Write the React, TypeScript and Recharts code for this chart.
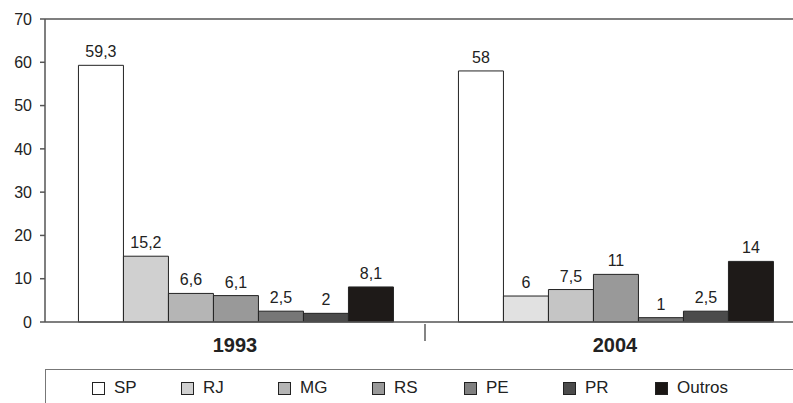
import React from "react";
import { BarChart, Bar, XAxis, YAxis, Cell, LabelList, ReferenceLine } from "recharts";

const years = ["1993", "2004"];
const states = ["SP", "RJ", "MG", "RS", "PE", "PR", "Outros"];
const values1993 = [59.3, 15.2, 6.6, 6.1, 2.5, 2, 8.1];
const values2004 = [58, 6, 7.5, 11, 1, 2.5, 14];
const yTicks = [0, 10, 20, 30, 40, 50, 60, 70];

// fills as they appear in each group (the scan shades the 2004 bars a bit differently)
const fills1993 = ["#ffffff", "#d0d0d0", "#b5b5b5", "#999999", "#777777", "#4b4b4b", "#1e1a18"];
const fills2004 = ["#ffffff", "#e1e1e1", "#c5c5c5", "#999999", "#777777", "#4b4b4b", "#1e1a18"];
const legendFills = ["#ffffff", "#d0d0d0", "#b5b5b5", "#999999", "#808080", "#4b4b4b", "#1a1614"];
// left edge of each legend swatch, relative to the legend box
const legendLeft = [46, 135, 232, 326, 418, 517, 609];

const FONT = "Arial, 'Liberation Sans', Helvetica, sans-serif";

const data = years.map((year, i) => {
    const row: { [key: string]: string | number } = { year };
    states.forEach((s, j) => {
        row[s] = i === 0 ? values1993[j] : values2004[j];
    });
    return row;
});

const CHART_W = 810;
const PLOT_LEFT = 45;
const PLOT_RIGHT = 805;

function YearTick(props: any) {
    const { x, y, payload, index } = props;
    const half = (PLOT_RIGHT - PLOT_LEFT) / years.length / 2;
    return (
        <g>
            <text
                x={x}
                y={y + 22}
                textAnchor="middle"
                fontFamily={FONT}
                fontSize={20}
                fontWeight="bold"
                fill="#222"
            >
                {payload.value}
            </text>
            {index < years.length - 1 && (
                <line x1={x + half} x2={x + half} y1={y - 6} y2={y + 11} stroke="#333" strokeWidth={1.2} />
            )}
        </g>
    );
}

export default function App() {
    return (
        <div style={{ position: "absolute", left: 0, top: 0, width: 793, height: 403, overflow: "hidden", background: "#fff" }}>
            <BarChart
                width={CHART_W}
                height={403}
                data={data}
                margin={{ top: 19, right: CHART_W - PLOT_RIGHT, bottom: 41, left: 5 }}
                barCategoryGap="8.8%"
                barGap={0}
            >
                <YAxis
                    domain={[0, 70]}
                    ticks={yTicks}
                    width={40}
                    tickSize={5}
                    tickMargin={8}
                    axisLine={{ stroke: "#555", strokeWidth: 1.5 }}
                    tickLine={{ stroke: "#555", strokeWidth: 1.5 }}
                    tick={{ fontFamily: FONT, fontSize: 16, fill: "#222" }}
                />
                <XAxis
                    dataKey="year"
                    height={40}
                    tickLine={false}
                    axisLine={{ stroke: "#555", strokeWidth: 1.5 }}
                    tick={<YearTick />}
                    interval={0}
                />
                <ReferenceLine y={70} stroke="#555" strokeWidth={1.5} />
                {states.map((s, j) => (
                    <Bar key={s} dataKey={s} stroke="#222" strokeWidth={1} isAnimationActive={false}>
                        {data.map((_, i) => (
                            <Cell key={`c-${i}`} fill={i === 0 ? fills1993[j] : fills2004[j]} />
                        ))}
                        <LabelList
                            dataKey={s}
                            position="top"
                            offset={8}
                            formatter={(v: any) => String(v).replace(".", ",")}
                            style={{ fontFamily: FONT, fontSize: 16, fill: "#222" }}
                        />
                    </Bar>
                ))}
            </BarChart>
            <div
                style={{
                    position: "absolute",
                    left: 45,
                    top: 369,
                    width: 760,
                    height: 40,
                    borderTop: "1.5px solid #777",
                    borderLeft: "1.5px solid #777",
                    fontFamily: FONT,
                    fontSize: 17,
                    color: "#222",
                }}
            >
                {states.map((s, j) => (
                    <div
                        key={s}
                        style={{ position: "absolute", left: legendLeft[j], top: 8, display: "flex", alignItems: "center", whiteSpace: "nowrap" }}
                    >
                        <span
                            style={{
                                display: "inline-block",
                                width: 11,
                                height: 11,
                                background: legendFills[j],
                                border: "1px solid #222",
                                marginRight: 9,
                            }}
                        />
                        <span>{s}</span>
                    </div>
                ))}
            </div>
        </div>
    );
}
